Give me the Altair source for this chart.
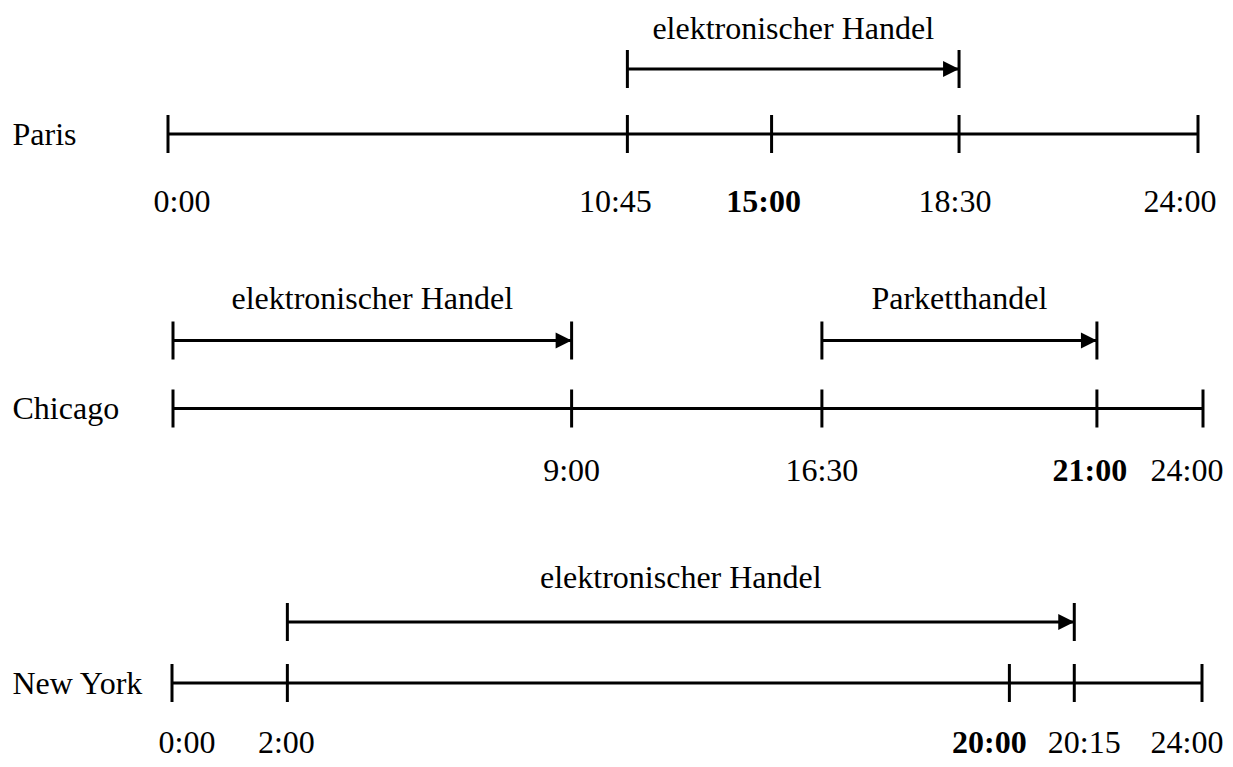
import altair as alt
import pandas as pd

# ---------------- data ----------------
cities = ["Paris", "Chicago", "New York"]

# schematic position of each time mark along its row (0 = 0:00, 100 = 24:00)
paris_times = ["0:00", "10:45", "15:00", "18:30", "24:00"]
paris_pos = [0.0, 44.6, 58.6, 76.8, 100.0]
paris_labels = ["0:00", "10:45", "15:00", "18:30", "24:00"]

chicago_times = ["0:00", "9:00", "16:30", "21:00", "24:00"]
chicago_pos = [0.0, 38.7, 63.0, 89.7, 100.0]
chicago_labels = ["", "9:00", "16:30", "21:00", "24:00"]

newyork_times = ["0:00", "2:00", "20:00", "20:15", "24:00"]
newyork_pos = [0.0, 11.2, 81.3, 87.6, 100.0]
newyork_labels = ["0:00", "2:00", "20:00", "20:15", "24:00"]

bold_times = {"Paris": "15:00", "Chicago": "21:00", "New York": "20:00"}

session_city = ["Paris", "Chicago", "Chicago", "New York"]
session_name = ["elektronischer Handel", "elektronischer Handel",
                "Parketthandel", "elektronischer Handel"]
session_start = ["10:45", "0:00", "16:30", "2:00"]
session_end = ["18:30", "9:00", "21:00", "20:15"]

# ---------------- layout / style ----------------
W, H = 1217, 751
X_RANGE = [165, 1195]
PX_PER_UNIT = (X_RANGE[1] - X_RANGE[0]) / 100.0
Y_RANGE = [126, 675]
FONT = "Liberation Serif"
FS = 32
# vertical offsets (px) of the parts of each row, relative to the row's line
ARROW_DY = {"Paris": -65, "Chicago": -68, "New York": -61}
ARROW_TEXT_DY = {"Paris": -105, "Chicago": -110, "New York": -105}
LABEL_DY = {"Paris": 68, "Chicago": 62, "New York": 60}
ROW_SHIFT_PX = {"Paris": -5, "Chicago": 0, "New York": -1}
LABEL_NUDGE_PX = {
    ("Paris", "0:00"): 14, ("Paris", "10:45"): -12, ("Paris", "15:00"): -8,
    ("Paris", "18:30"): -4, ("Paris", "24:00"): -18,
    ("Chicago", "9:00"): 0, ("Chicago", "16:30"): 0, ("Chicago", "21:00"): -7,
    ("Chicago", "24:00"): -16,
    ("New York", "0:00"): 15, ("New York", "2:00"): -1, ("New York", "20:00"): -20,
    ("New York", "20:15"): 10, ("New York", "24:00"): -15,
}

rows = {
    "Paris": (paris_times, paris_pos, paris_labels),
    "Chicago": (chicago_times, chicago_pos, chicago_labels),
    "New York": (newyork_times, newyork_pos, newyork_labels),
}

tick_records = []
pos_lookup = {}
for city, (times, poss, labels) in rows.items():
    shift = ROW_SHIFT_PX[city] / PX_PER_UNIT
    for t, p, lab in zip(times, poss, labels):
        pp = p + shift
        pos_lookup[(city, t)] = pp
        nudge = LABEL_NUDGE_PX.get((city, t), 0) / PX_PER_UNIT
        tick_records.append({
            "city": city, "time": t, "pos": pp, "label": lab,
            "label_x": pp + nudge, "bold": t == bold_times[city],
        })
ticks = pd.DataFrame(tick_records)

sessions = pd.DataFrame({
    "city": session_city,
    "name": session_name,
    "start": [pos_lookup[(c, t)] for c, t in zip(session_city, session_start)],
    "end": [pos_lookup[(c, t)] for c, t in zip(session_city, session_end)],
})
sessions["mid"] = (sessions["start"] + sessions["end"]) / 2

# ---------------- encodings ----------------
xs = alt.Scale(domain=[0, 100], range=X_RANGE, nice=False, zero=False)
Y = alt.Y(
    "city:N",
    scale=alt.Scale(type="point", domain=cities, range=Y_RANGE, padding=0),
    axis=alt.Axis(
        title=None, ticks=False, tickSize=0, domain=False, grid=False,
        labelPadding=0, offset=-4, labelAlign="left", labelBaseline="middle",
        labelFont=FONT, labelFontSize=FS, labelColor="black", labelLimit=0,
    ),
)

layers = []

layers.append(
    alt.Chart(ticks).transform_aggregate(
        lo="min(pos)", hi="max(pos)", groupby=["city"]
    ).mark_rule(color="black", strokeWidth=3).encode(
        x=alt.X("lo:Q", scale=xs, axis=None),
        x2="hi:Q",
        y=Y,
    )
)

layers.append(
    alt.Chart(ticks).mark_tick(
        color="black", opacity=1, size=38, thickness=3, orient="vertical"
    ).encode(
        x=alt.X("pos:Q", scale=xs, axis=None),
        y=Y,
    )
)

for city in cities:
    sess = alt.Chart(sessions).transform_filter(alt.datum.city == city)
    dy = ARROW_DY[city]
    layers.append(
        sess.mark_rule(color="black", strokeWidth=3, yOffset=dy).encode(
            x=alt.X("start:Q", scale=xs, axis=None),
            x2="end:Q",
            y=Y,
        )
    )
    layers.append(
        sess.transform_fold(["start", "end"], as_=["which", "p"]).mark_tick(
            color="black", opacity=1, size=38, thickness=3,
            orient="vertical", yOffset=dy,
        ).encode(
            x=alt.X("p:Q", scale=xs, axis=None),
            y=Y,
        )
    )
    layers.append(
        sess.mark_point(
            shape="M -2 -1 L 0 0 L -2 1 Z", size=256, filled=True,
            color="black", opacity=1, strokeWidth=0, yOffset=dy,
        ).encode(
            x=alt.X("end:Q", scale=xs, axis=None),
            y=Y,
        )
    )
    layers.append(
        sess.mark_text(
            font=FONT, fontSize=FS, color="black", dy=ARROW_TEXT_DY[city],
            align="center", baseline="middle",
        ).encode(
            x=alt.X("mid:Q", scale=xs, axis=None),
            y=Y,
            text="name:N",
        )
    )
    for is_bold in (False, True):
        cond = "datum.label != '' && datum.city == '%s' && %sdatum.bold" % (
            city, "" if is_bold else "!")
        layers.append(
            alt.Chart(ticks).transform_filter(cond).mark_text(
                font=FONT, fontSize=FS, color="black", dy=LABEL_DY[city],
                fontWeight="bold" if is_bold else "normal",
                align="center", baseline="middle",
            ).encode(
                x=alt.X("label_x:Q", scale=xs, axis=None),
                y=Y,
                text="label:N",
            )
        )

chart = alt.layer(*layers).properties(
    width=W, height=H, padding=0,
    autosize=alt.AutoSizeParams(type="none"),
    background="white",
).configure_view(strokeWidth=0)

chart.save("out.html", embed_options={"renderer": "svg", "actions": False})
